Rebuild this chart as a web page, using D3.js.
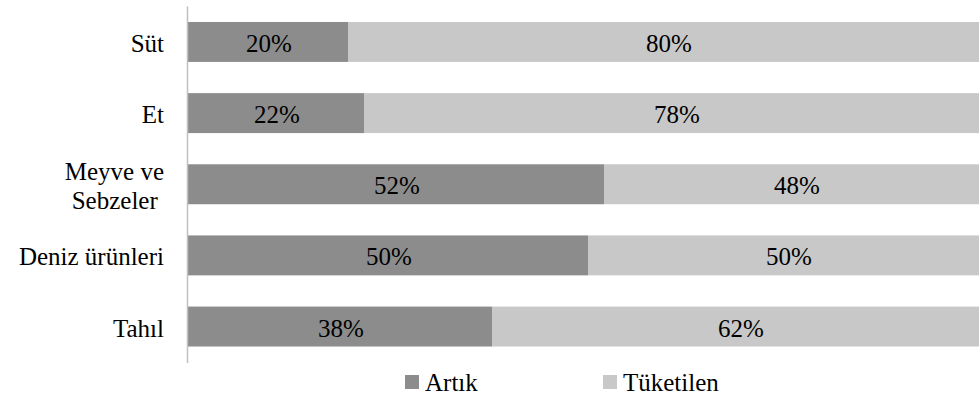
<!DOCTYPE html>
<html>
<head>
<meta charset="utf-8">
<script src="https://cdn.jsdelivr.net/npm/d3@7"></script>
</head>
<body style="margin:0">
<svg id="chart" width="979" height="399"></svg>
<script>
const categories = ["Süt", "Et", "Meyve ve Sebzeler", "Deniz ürünleri", "Tahıl"];
const categoryLines = [["Süt"], ["Et"], ["Meyve ve", "Sebzeler\u00a0"], ["Deniz ürünleri"], ["Tahıl"]];
const seriesNames = ["Artık", "Tüketilen"];
const artik = [20, 22, 52, 50, 38];
const tuketilen = [80, 78, 48, 50, 62];
const seriesColors = ["#8c8c8c", "#c8c8c8"];

const svg = d3.select("#chart");
const fontSize = 25;
const FONT = "'Times New Roman'";

const x = d3.scaleLinear().domain([0, 100]).range([188, 988]);
const y = d3.scaleBand().domain(categories).range([6, 362.5]).paddingInner(0.4386).paddingOuter(0.2246);

const rows = categories.map((c, i) => ({ cat: c, Artık: artik[i], Tüketilen: tuketilen[i] }));
const stack = d3.stack().keys(seriesNames)(rows);
const color = d3.scaleOrdinal().domain(seriesNames).range(seriesColors);

const layers = svg.append("g").selectAll("g").data(stack).join("g").attr("fill", d => color(d.key));
layers.selectAll("rect").data(d => d).join("rect")
  .attr("x", d => x(d[0]))
  .attr("y", d => y(d.data.cat))
  .attr("width", d => x(d[1]) - x(d[0]))
  .attr("height", y.bandwidth());

// value labels
stack.forEach(layer => {
  layer.forEach(d => {
    svg.append("text")
      .attr("x", (x(d[0]) + x(d[1])) / 2 - 22)
      .attr("y", y(d.data.cat) + y.bandwidth() / 2 + 10)
      .attr("font-size", fontSize)
      .style("font-family", FONT)
      .text((d[1] - d[0]) + "%");
  });
});

// y axis line
const axis = d3.axisLeft(y).tickSize(0).tickSizeOuter(0).tickFormat("");
const gAxis = svg.append("g").attr("transform", "translate(187,0)").call(axis);
gAxis.select(".domain").attr("stroke", "#c0c0c0").attr("stroke-width", 1.5);
gAxis.selectAll(".tick").remove();

// category labels
categories.forEach((c, i) => {
  const lines = categoryLines[i];
  const cy = y(c) + y.bandwidth() / 2;
  lines.forEach((ln, k) => {
    svg.append("text")
      .attr("x", 164)
      .attr("y", cy + 10 + (k - (lines.length - 1) / 2) * 29)
      .attr("text-anchor", "end")
      .attr("font-size", fontSize)
      .style("font-family", FONT)
      .text(ln);
  });
});

// legend
const legendX = [405, 603];
seriesNames.forEach((s, i) => {
  svg.append("rect").attr("x", legendX[i]).attr("y", 375).attr("width", 14).attr("height", 14).attr("fill", color(s));
  svg.append("text").attr("x", legendX[i] + 20).attr("y", 391)
    .attr("font-size", fontSize)
    .style("font-family", FONT)
    .text(s);
});
</script>
</body>
</html>
